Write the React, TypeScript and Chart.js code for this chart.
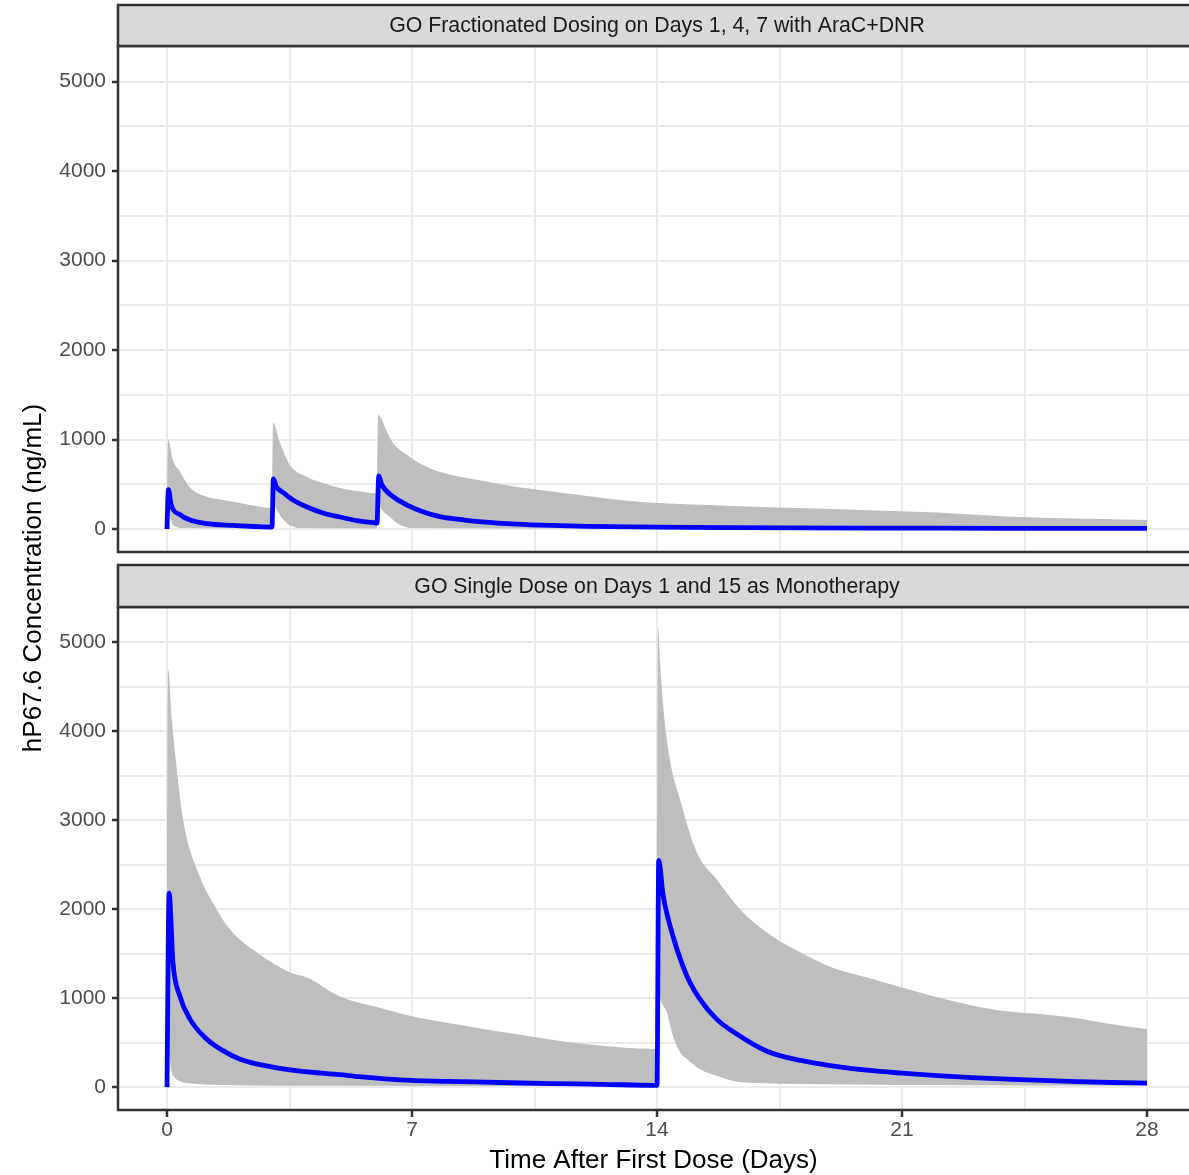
import React, { useEffect, useRef } from "react";
import { Chart, registerables } from "chart.js";

Chart.register(...registerables);

// ---- axis ticks ----
const xTickValues = [0, 3.5, 7, 10.5, 14, 17.5, 21, 24.5, 28];
const xMajorLabels = [0, 7, 14, 21, 28];
const yTickValues = [0, 500, 1000, 1500, 2000, 2500, 3000, 3500, 4000, 4500, 5000];
const yMajorLabels = [0, 1000, 2000, 3000, 4000, 5000];

const panelTitles = [
  "GO Fractionated Dosing on Days 1, 4, 7 with AraC+DNR",
  "GO Single Dose on Days 1 and 15 as Monotherapy",
];
const xTitle = "Time After First Dose (Days)";
const yTitle = "hP67.6 Concentration (ng/mL)";

// ---- panel 1: fractionated dosing ----
const fracMedianTime = [0, 0.04, 0.12, 0.37, 0.66, 1.14, 1.6, 2.1, 2.5, 2.97, 3.0, 3.04, 3.12, 3.33, 3.6, 4.0, 4.46, 4.94, 5.43, 5.9, 6.0, 6.05, 6.13, 6.46, 6.86, 7.31, 7.8, 8.5, 9, 10, 11, 12, 14, 16, 18, 21, 24, 28];
const fracMedianConc = [0, 440, 270, 160, 100, 60, 45, 35, 28, 22, 22, 560, 475, 405, 324, 246, 179, 134, 93, 70, 65, 593, 500, 361, 268, 194, 138, 100, 80, 55, 40, 30, 20, 15, 12, 10, 8, 6];

const fracUpperTime = [0, 0.03, 0.17, 0.37, 0.66, 1.14, 1.6, 2.1, 2.5, 2.97, 3.0, 3.03, 3.23, 3.51, 4.0, 4.46, 4.94, 5.43, 5.97, 6.0, 6.03, 6.3, 6.46, 6.86, 7.31, 7.8, 9, 10, 11, 12, 13, 14, 16, 18, 20, 22, 24, 26, 28];
const fracUpperConc = [0, 1000, 770, 640, 460, 360, 325, 290, 260, 235, 235, 1190, 960, 716, 582, 515, 459, 425, 400, 400, 1275, 1074, 962, 828, 716, 638, 540, 470, 420, 370, 320, 290, 260, 235, 210, 185, 140, 118, 100];

const fracLowerTime = [0, 0.03, 0.17, 0.5, 1.5, 2.97, 3.0, 3.03, 3.14, 3.33, 3.5, 3.8, 5.0, 5.97, 6.0, 6.03, 6.1, 6.4, 6.66, 7.0, 10, 14, 21, 28];
const fracLowerConc = [0, 200, 45, 10, 8, 6, 6, 300, 212, 100, 45, 10, 7, 6, 6, 320, 246, 123, 45, 10, 6, 4, 3, 2];

// ---- panel 2: single dose ----
const singleMedianTime = [0, 0.06, 0.17, 0.37, 0.66, 1.14, 1.6, 2.09, 3.03, 3.8, 4.94, 5.5, 6.66, 8, 9.5, 11, 12.4, 13.97, 14.0, 14.05, 14.17, 14.46, 14.86, 15.23, 15.71, 16.2, 17.14, 18.1, 19, 20, 21, 22, 23, 24, 25, 26, 27, 28];
const singleMedianConc = [0, 2180, 1400, 1020, 762, 538, 410, 314, 224, 180, 140, 118, 82, 65, 52, 40, 32, 20, 20, 2550, 2170, 1693, 1244, 987, 762, 617, 404, 300, 240, 190, 157, 130, 108, 90, 75, 62, 52, 45];

const singleUpperTime = [0, 0.03, 0.14, 0.23, 0.46, 0.94, 1.31, 1.8, 2.57, 3.51, 4.0, 4.94, 6, 7, 8.5, 10, 12, 13.97, 14.0, 14.03, 14.09, 14.17, 14.37, 14.66, 15.14, 15.71, 16.46, 17.3, 18.1, 19, 20, 21, 22, 23, 24, 25, 26, 27, 28];
const singleUpperConc = [0, 4700, 4126, 3756, 3004, 2365, 2074, 1771, 1513, 1289, 1233, 1020, 900, 796, 690, 594, 482, 430, 430, 5170, 4765, 4316, 3677, 3229, 2634, 2332, 1962, 1693, 1513, 1345, 1233, 1121, 1009, 919, 852, 818, 774, 706, 650];

const singleLowerTime = [0, 0.04, 0.1, 0.2, 0.37, 0.66, 1.5, 5, 10, 13.97, 14.0, 14.05, 14.1, 14.28, 14.46, 14.66, 14.86, 15.23, 15.71, 16.2, 17.1, 18.1, 21, 28];
const singleLowerConc = [0, 700, 250, 120, 67, 45, 25, 15, 12, 10, 10, 1100, 987, 841, 572, 392, 314, 202, 127, 67, 45, 34, 25, 15];

const X_MIN = -1.4;
const X_MAX = 29.2;
const Y_MIN = -257;
const Y_MAX = 5397;

const FONT = '"Liberation Sans", Arial, Helvetica, sans-serif';
const BAND = "#BEBEBE";
const LINE = "#0000FF";
const GRID = "#EBEBEB";
const DARK = "#333333";

const xy = (t: number[], c: number[]) => t.map((v, i) => ({ x: v, y: c[i] }));

function makeDatasets(ut: number[], uc: number[], lt: number[], lc: number[], mt: number[], mc: number[]) {
  return [
    {
      label: "upper",
      data: xy(ut, uc),
      borderColor: "rgba(0,0,0,0)",
      borderWidth: 0,
      backgroundColor: BAND,
      pointRadius: 0,
      fill: "+1",
      cubicInterpolationMode: "monotone",
      order: 2,
    },
    {
      label: "lower",
      data: xy(lt, lc),
      borderColor: "rgba(0,0,0,0)",
      borderWidth: 0,
      backgroundColor: BAND,
      pointRadius: 0,
      fill: false,
      cubicInterpolationMode: "monotone",
      order: 2,
    },
    {
      label: "median",
      data: xy(mt, mc),
      borderColor: LINE,
      borderWidth: 4.8,
      borderJoinStyle: "round",
      pointRadius: 0,
      fill: false,
      cubicInterpolationMode: "monotone",
      order: 0,
    },
  ];
}

function facetPlugin(title: string, stripTop: number, stripBottom: number, drawYTitle: boolean) {
  return {
    id: "facet" + stripTop,
    afterDraw(chart: any) {
      const { ctx, chartArea } = chart;
      const w = chart.width - chartArea.left + 20;
      ctx.save();
      ctx.lineWidth = 2.5;
      ctx.strokeStyle = DARK;
      // panel border
      ctx.strokeRect(chartArea.left, chartArea.top, w, chartArea.bottom - chartArea.top);
      // strip
      ctx.fillStyle = "#D9D9D9";
      ctx.fillRect(chartArea.left, stripTop, w, stripBottom - stripTop);
      ctx.strokeRect(chartArea.left, stripTop, w, stripBottom - stripTop);
      const cx = chart.scales.x.getPixelForValue(14);
      ctx.fillStyle = "#1A1A1A";
      ctx.font = `21.3px ${FONT}`;
      ctx.textAlign = "center";
      ctx.textBaseline = "middle";
      ctx.fillText(title, cx, (stripTop + stripBottom) / 2 + 1);
      if (drawYTitle) {
        ctx.translate(34, 578);
        ctx.rotate(-Math.PI / 2);
        ctx.fillStyle = "#000000";
        ctx.font = `26px ${FONT}`;
        ctx.fillText(yTitle, 0, 0);
      }
      ctx.restore();
    },
  };
}

function makeOptions(showX: boolean, padTop: number, xHeight: number) {
  return {
    responsive: false,
    maintainAspectRatio: false,
    animation: false,
    devicePixelRatio: 1,
    layout: { padding: { top: padTop, bottom: 0, left: 0, right: 0 } },
    plugins: { legend: { display: false }, tooltip: { enabled: false } },
    scales: {
      x: {
        type: "linear",
        min: X_MIN,
        max: X_MAX,
        afterBuildTicks: (s: any) => {
          s.ticks = xTickValues.map((v) => ({ value: v }));
        },
        afterFit: (s: any) => {
          s.height = xHeight;
        },
        border: { display: false },
        grid: {
          color: GRID,
          lineWidth: 2,
          drawTicks: showX,
          tickLength: 7,
          tickWidth: 2.5,
          tickColor: (c: any) => (c.tick && xMajorLabels.includes(c.tick.value) ? DARK : "rgba(0,0,0,0)"),
        },
        ticks: {
          display: showX,
          autoSkip: false,
          maxRotation: 0,
          padding: 1,
          color: "#4D4D4D",
          font: { family: FONT, size: 21 },
          callback: (v: any) => (xMajorLabels.includes(Number(v)) ? String(v) : ""),
        },
        title: {
          display: showX,
          text: xTitle,
          color: "#000000",
          font: { family: FONT, size: 26, lineHeight: 1 },
          padding: { top: 0, bottom: 1 },
        },
      },
      y: {
        type: "linear",
        min: Y_MIN,
        max: Y_MAX,
        afterBuildTicks: (s: any) => {
          s.ticks = yTickValues.map((v) => ({ value: v }));
        },
        afterFit: (s: any) => {
          s.width = 118;
        },
        border: { display: false },
        grid: {
          color: GRID,
          lineWidth: 2,
          drawTicks: true,
          tickLength: 6,
          tickWidth: 2.5,
          tickColor: (c: any) => (c.tick && yMajorLabels.includes(c.tick.value) ? DARK : "rgba(0,0,0,0)"),
        },
        ticks: {
          autoSkip: false,
          padding: 6,
          color: "#4D4D4D",
          font: { family: FONT, size: 21 },
          callback: (v: any) => (yMajorLabels.includes(Number(v)) ? String(v) : ""),
        },
      },
    },
  };
}

export default function App() {
  const topRef = useRef<HTMLCanvasElement | null>(null);
  const bottomRef = useRef<HTMLCanvasElement | null>(null);

  useEffect(() => {
    const bottom = new Chart(bottomRef.current as HTMLCanvasElement, {
      type: "line",
      data: {
        datasets: makeDatasets(singleUpperTime, singleUpperConc, singleLowerTime, singleLowerConc, singleMedianTime, singleMedianConc) as any,
      },
      options: makeOptions(true, 607, 65) as any,
      plugins: [facetPlugin(panelTitles[1], 565, 607, true)],
    });
    const top = new Chart(topRef.current as HTMLCanvasElement, {
      type: "line",
      data: {
        datasets: makeDatasets(fracUpperTime, fracUpperConc, fracLowerTime, fracLowerConc, fracMedianTime, fracMedianConc) as any,
      },
      options: makeOptions(false, 46, 20) as any,
      plugins: [facetPlugin(panelTitles[0], 5, 46, false)],
    });
    return () => {
      top.destroy();
      bottom.destroy();
    };
  }, []);

  return (
    <div
      style={{
        position: "absolute",
        left: 0,
        top: 0,
        width: 1189,
        height: 1175,
        overflow: "hidden",
        background: "#ffffff",
      }}
    >
      <canvas ref={bottomRef} width={1189} height={1175} style={{ position: "absolute", left: 0, top: 0 }} />
      <canvas ref={topRef} width={1189} height={572} style={{ position: "absolute", left: 0, top: 0 }} />
    </div>
  );
}
